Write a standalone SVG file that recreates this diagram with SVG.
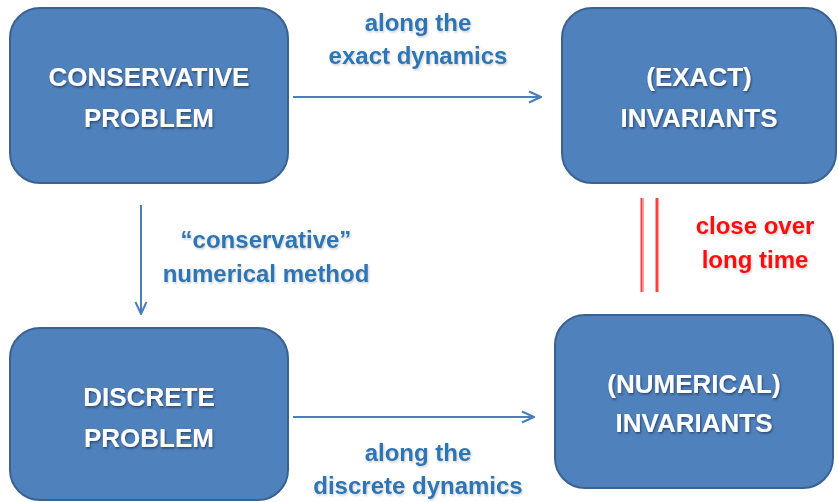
<svg xmlns="http://www.w3.org/2000/svg" width="838" height="502" viewBox="0 0 838 502">
<defs>
<style>
.box{fill:#4f81bd;stroke:#3a6291;stroke-width:2}
.bt{font-family:"Liberation Sans",Arial,sans-serif;font-weight:bold;font-size:26px;fill:#ffffff;text-anchor:middle;filter:url(#sh)}
.lbl{font-family:"Liberation Sans",Arial,sans-serif;font-weight:bold;font-size:24px;fill:#2e75b6;text-anchor:middle;filter:url(#sh2)}
.red{font-family:"Liberation Sans",Arial,sans-serif;font-weight:bold;font-size:24px;fill:#ff1010;text-anchor:middle;filter:url(#sh2)}
.conn{stroke:#4a7ebb;stroke-width:2;fill:none}
.eq{stroke:#ff4040;stroke-width:3;fill:none}
.eqc{stroke:#ff9090;stroke-width:1;fill:none}
</style>
<filter id="sh" x="-10%" y="-20%" width="120%" height="150%">
<feDropShadow dx="1" dy="1.5" stdDeviation="1" flood-color="#000" flood-opacity="0.45"/>
</filter>
<filter id="sh2" x="-10%" y="-20%" width="120%" height="150%">
<feDropShadow dx="1" dy="1.5" stdDeviation="1" flood-color="#000" flood-opacity="0.2"/>
</filter>
<marker id="ah" viewBox="0 0 14 14" refX="13" refY="7" markerWidth="14" markerHeight="14" markerUnits="userSpaceOnUse" orient="auto">
<path d="M1,1.5 L13,7 L1,12.5" fill="none" stroke="#4a7ebb" stroke-width="2"/>
</marker>
</defs>
<rect width="838" height="502" fill="#ffffff"/>
<g id="conservative-problem">
<rect class="box" x="10" y="8" width="278" height="175" rx="30"/>
<text class="bt" x="149" y="86">CONSERVATIVE</text>
<text class="bt" x="149" y="127">PROBLEM</text>
</g>
<g id="exact-invariants">
<rect class="box" x="562" y="8" width="274" height="175" rx="30"/>
<text class="bt" x="699" y="86">(EXACT)</text>
<text class="bt" x="699" y="127">INVARIANTS</text>
</g>
<g id="discrete-problem">
<rect class="box" x="10" y="328" width="278" height="172" rx="30"/>
<text class="bt" x="149" y="406">DISCRETE</text>
<text class="bt" x="149" y="447">PROBLEM</text>
</g>
<g id="numerical-invariants">
<rect class="box" x="555" y="315" width="278" height="173" rx="30"/>
<text class="bt" x="694" y="393">(NUMERICAL)</text>
<text class="bt" x="694" y="432">INVARIANTS</text>
</g>
<g id="connectors">
<line class="conn" x1="293" y1="97" x2="541" y2="97" marker-end="url(#ah)"/>
<line class="conn" x1="293" y1="417" x2="534" y2="417" marker-end="url(#ah)"/>
<line class="conn" x1="141" y1="205" x2="141" y2="314" marker-end="url(#ah)"/>
<line class="eq" x1="642" y1="198" x2="642" y2="292"/>
<line class="eq" x1="657" y1="198" x2="657" y2="292"/>
<line class="eqc" x1="642.5" y1="198" x2="642.5" y2="292"/>
</g>
<g id="labels">
<text class="lbl" x="418" y="31">along the</text>
<text class="lbl" x="418" y="64">exact  dynamics</text>
<text class="lbl" x="266" y="248">“conservative”</text>
<text class="lbl" x="266" y="282">numerical method</text>
<text class="lbl" x="418" y="461">along the</text>
<text class="lbl" x="418" y="494">discrete dynamics</text>
<text class="red" x="755" y="234">close over</text>
<text class="red" x="755" y="268">long time</text>
</g>
</svg>
